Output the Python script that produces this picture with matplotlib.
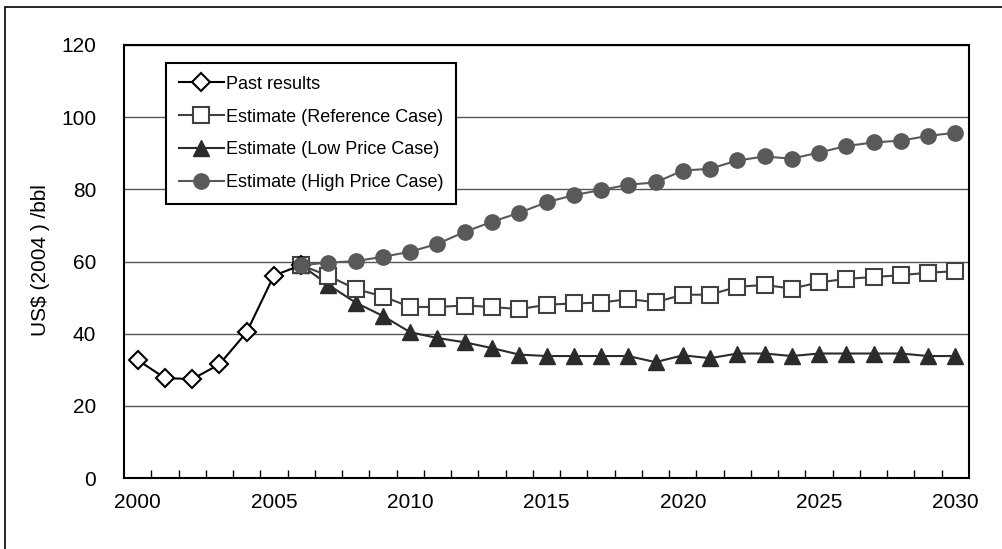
import numpy as np
import matplotlib.pyplot as plt
from matplotlib.ticker import FixedLocator, MultipleLocator
from matplotlib.patches import Rectangle

plt.rcParams['font.family'] = ['Liberation Sans', 'DejaVu Sans']

past_years = list(range(2000, 2007))
past = [32.7, 27.7, 27.4, 31.5, 40.4, 56.1, 59.0]

est_years = list(range(2006, 2031))
reference = [59.0, 56.0, 52.4, 50.3, 47.4, 47.4, 47.8, 47.4, 46.8, 48.0,
             48.4, 48.6, 49.6, 48.7, 50.8, 50.8, 53.0, 53.5, 52.5, 54.2,
             55.2, 55.7, 56.2, 56.9, 57.3]
low = [59.0, 53.5, 48.6, 44.9, 40.4, 38.8, 37.6, 36.0, 34.2, 33.8,
       33.8, 33.8, 33.8, 32.1, 34.0, 33.2, 34.5, 34.5, 33.8, 34.5,
       34.5, 34.5, 34.5, 33.8, 33.8]
high = [59.0, 59.7, 60.1, 61.3, 62.7, 64.9, 68.2, 71.0, 73.5, 76.4,
        78.4, 79.8, 81.3, 81.9, 85.2, 85.7, 88.0, 89.1, 88.5, 90.2,
        92.0, 93.0, 93.5, 94.8, 95.7]

label_years = [2000, 2005, 2010, 2015, 2020, 2025, 2030]

W, H = 1002, 549
fig = plt.figure(figsize=(W / 100, H / 100), dpi=100)
ax = fig.add_axes([124 / W, 1 - 478 / H, (969 - 124) / W, (478 - 45) / H])

# frame around the whole chart (top and left edges show)
fig.patches.append(Rectangle((5 / W, -0.1), 1.2, 1 - 7 / H + 0.1,
                             transform=fig.transFigure, fill=False,
                             edgecolor='black', linewidth=1.2))

ax.plot(past_years, past, '-', color='black', lw=1.5, marker='D',
        ms=9.5, mfc='white', mec='black', mew=1.5, label='Past results', zorder=5)
ax.plot(est_years, reference, '-', color='#404040', lw=1.5, marker='s',
        ms=11.5, mfc='white', mec='#404040', mew=1.5,
        label='Estimate (Reference Case)', zorder=4)
ax.plot(est_years, low, '-', color='#2b2b2b', lw=1.5, marker='^',
        ms=12, mfc='#2b2b2b', mec='#2b2b2b', label='Estimate (Low Price Case)', zorder=3)
ax.plot(est_years, high, '-', color='#595959', lw=1.5, marker='o',
        ms=11, mfc='#595959', mec='#595959',
        label='Estimate (High Price Case)', zorder=6)

ax.set_xlim(1999.5, 2030.5)
ax.set_ylim(0, 120)
ax.xaxis.set_major_locator(FixedLocator(label_years))
ax.xaxis.set_minor_locator(FixedLocator(np.arange(2000.5, 2030.5, 1.0)))
ax.yaxis.set_major_locator(MultipleLocator(20))
ax.tick_params(axis='x', which='major', length=0, pad=11, labelsize=15)
ax.tick_params(axis='x', which='minor', direction='in', length=6, width=1)
ax.tick_params(axis='y', which='major', length=0, pad=20, labelsize=15)
ax.grid(axis='y', color='#555555', lw=1)
ax.set_axisbelow(True)
for s in ax.spines.values():
    s.set_linewidth(1.5)

fig.text(41 / W, 1 - 260 / H, 'US$ (2004 ) /bbl', rotation=90,
         ha='center', va='center', fontsize=15)

leg = ax.legend(loc='upper left', bbox_to_anchor=(166 / W, 1 - 63 / H),
                bbox_transform=fig.transFigure, fontsize=13, frameon=True,
                fancybox=False, framealpha=1, edgecolor='black',
                handlelength=2.5, handletextpad=0.1, labelspacing=0.88,
                borderpad=0.7, borderaxespad=0)
leg.get_frame().set_linewidth(1.5)

plt.savefig('out.png', dpi=100)
plt.close()
